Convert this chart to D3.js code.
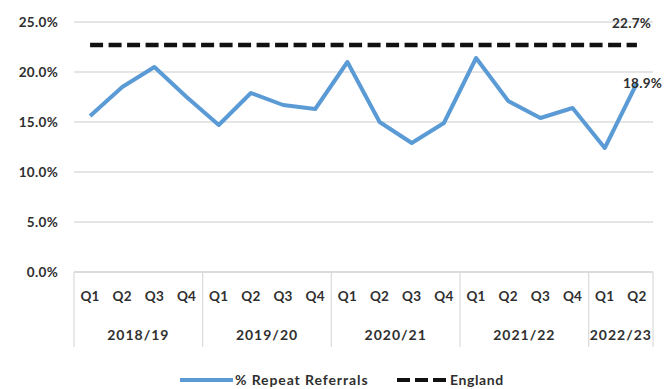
<!DOCTYPE html>
<html>
<head>
<meta charset="utf-8">
<script src="https://cdn.jsdelivr.net/npm/d3@7"></script>
<style>
  html, body { margin: 0; padding: 0; background: #fff; }
  svg { display: block; }
  text { font-family: Lato, "Liberation Sans", sans-serif; fill: #2f2f2f; }
</style>
</head>
<body>
<svg id="chart" width="670" height="389"></svg>
<script>
// Quarterly share of referrals that were repeat referrals, with England average
const years = ["2018/19", "2019/20", "2020/21", "2021/22", "2022/23"];
const quartersPerYear = [4, 4, 4, 4, 2];
const quarterNames = ["Q1", "Q2", "Q3", "Q4"];
const repeatReferrals = [15.6, 18.5, 20.5, 17.5, 14.7, 17.9, 16.7, 16.3, 21.0, 15.0, 12.9, 14.9, 21.4, 17.1, 15.4, 16.4, 12.4, 18.9];
const englandValue = 22.7;
const yTicks = [0, 5, 10, 15, 20, 25];

// Flat list of quarter slots, keyed by year + quarter
const slots = [];
years.forEach((y, yi) => {
  for (let q = 0; q < quartersPerYear[yi]; q++) slots.push({ year: y, q: quarterNames[q], key: y + "-" + quarterNames[q] });
});

const svg = d3.select("#chart");
const margin = { left: 74, right: 17, top: 22, bottom: 117 };
const W = 670, H = 389;
const plotW = W - margin.left - margin.right;
const plotH = H - margin.top - margin.bottom;

const x = d3.scaleBand().domain(slots.map(d => d.key)).range([margin.left, margin.left + plotW]).padding(0);
const y = d3.scaleLinear().domain([0, 25]).range([margin.top + plotH, margin.top]);
const cx = k => x(k) + x.bandwidth() / 2;

// Horizontal gridlines
svg.append("g").selectAll("line").data(yTicks.filter(t => t > 0)).join("line")
  .attr("x1", margin.left).attr("x2", margin.left + plotW)
  .attr("y1", d => y(d)).attr("y2", d => y(d))
  .attr("stroke", "#dcdcdc").attr("stroke-width", 1.5);

// Y axis labels
const yAxis = d3.axisLeft(y).tickValues(yTicks).tickSize(0).tickPadding(16).tickFormat(d => d.toFixed(1) + "%");
const gy = svg.append("g").attr("transform", `translate(${margin.left},0)`).call(yAxis);
gy.select(".domain").remove();
gy.selectAll("text").attr("font-size", 13.5).attr("font-weight", "bold").attr("fill", "#2f2f2f")
  .attr("letter-spacing", 0.3).style("font-family", "Lato, sans-serif");

// Category axis: baseline, year dividers, quarter and year labels
const base = y(0);
const axisBottom = base + 75;
svg.append("line").attr("x1", margin.left).attr("x2", margin.left + plotW)
  .attr("y1", base).attr("y2", base).attr("stroke", "#d0d0d0").attr("stroke-width", 1.5);

const yearBounds = [];
let idx = 0;
years.forEach((yr, yi) => {
  const first = slots[idx].key;
  const last = slots[idx + quartersPerYear[yi] - 1].key;
  yearBounds.push({ year: yr, x0: x(first), x1: x(last) + x.bandwidth() });
  idx += quartersPerYear[yi];
});
const dividers = [yearBounds[0].x0].concat(yearBounds.map(b => b.x1));
svg.append("g").selectAll("line").data(dividers).join("line")
  .attr("x1", d => d).attr("x2", d => d)
  .attr("y1", base).attr("y2", axisBottom)
  .attr("stroke", "#dadada").attr("stroke-width", 1.2);

const xAxis = d3.axisBottom(x).tickSize(0).tickPadding(19).tickFormat(k => slots.find(s => s.key === k).q);
const gx = svg.append("g").attr("transform", `translate(0,${base})`).call(xAxis);
gx.select(".domain").remove();
gx.selectAll("text").attr("font-size", 13.5).attr("font-weight", "bold").attr("fill", "#2f2f2f")
  .attr("letter-spacing", 0.3).style("font-family", "Lato, sans-serif");

svg.append("g").selectAll("text").data(yearBounds).join("text")
  .attr("x", d => (d.x0 + d.x1) / 2).attr("y", base + 68)
  .attr("text-anchor", "middle").attr("font-size", 14).attr("font-weight", "bold")
  .attr("letter-spacing", 1)
  .text(d => d.year);

// England reference line
const firstKey = slots[0].key, lastKey = slots[slots.length - 1].key;
svg.append("line")
  .attr("x1", cx(firstKey)).attr("x2", cx(lastKey))
  .attr("y1", y(englandValue)).attr("y2", y(englandValue))
  .attr("stroke", "#111").attr("stroke-width", 4.5).attr("stroke-dasharray", "13,5.5");

// Repeat referrals series
const line = d3.line().x((d, i) => cx(slots[i].key)).y(d => y(d));
svg.append("path").datum(repeatReferrals)
  .attr("d", line).attr("fill", "none")
  .attr("stroke", "#5b9bd5").attr("stroke-width", 4).attr("stroke-linejoin", "round");

// End-point labels
svg.append("text").attr("x", cx(lastKey) - 25).attr("y", y(englandValue) - 17)
  .attr("font-size", 13.5).attr("font-weight", "bold").attr("letter-spacing", 0.3).text(englandValue.toFixed(1) + "%");
const lastVal = repeatReferrals[repeatReferrals.length - 1];
svg.append("text").attr("x", cx(lastKey) - 14).attr("y", y(lastVal) + 5)
  .attr("font-size", 13.5).attr("font-weight", "bold").attr("letter-spacing", 0.3).text(lastVal.toFixed(1) + "%");

// Legend
const lg = svg.append("g").attr("transform", "translate(0,380)");
lg.append("line").attr("x1", 180).attr("x2", 233).attr("y1", 0).attr("y2", 0)
  .attr("stroke", "#5b9bd5").attr("stroke-width", 4);
lg.append("text").attr("x", 235).attr("y", 5).attr("font-size", 14).attr("font-weight", "bold")
  .attr("letter-spacing", 0.9).text("% Repeat Referrals");
lg.append("line").attr("x1", 397).attr("x2", 446).attr("y1", 0).attr("y2", 0)
  .attr("stroke", "#111").attr("stroke-width", 4).attr("stroke-dasharray", "13,5");
lg.append("text").attr("x", 450).attr("y", 5).attr("font-size", 14).attr("font-weight", "bold")
  .attr("letter-spacing", 0.6).text("England");
</script>
</body>
</html>
